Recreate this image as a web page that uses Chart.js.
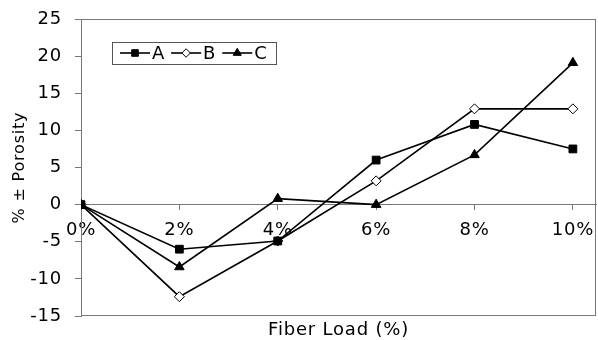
<!DOCTYPE html>
<html>
<head>
<meta charset="utf-8">
<script src="https://cdn.jsdelivr.net/npm/chart.js@4/dist/chart.umd.min.js"></script>
<style>
  html, body { margin: 0; padding: 0; background: #fff; }
  #wrap { width: 598px; height: 340px; }
</style>
</head>
<body>
<div id="wrap"><canvas id="c" width="598" height="340"></canvas></div>
<script>
// Fiber load levels (%) and porosity change for each mix
const fiberLoad = [0, 2, 4, 6, 8, 10];
const seriesA = [0, -6.0, -4.9, 6.0, 10.8, 7.5];
const seriesB = [0, -12.4, -4.9, 3.2, 12.9, 12.9];
const seriesC = [0, -8.4, 0.8, 0.0, 6.7, 19.1];
const yTickValues = [-15, -10, -5, 0, 5, 10, 15, 20, 25];
const seriesNames = ['A', 'B', 'C'];

const FONT = 'DejaVu Sans, Verdana, sans-serif';
const AXIS_GREY = '#777';
const LETTER_SPACING = '0.8px';

function toPoints(values) {
  return fiberLoad.map((x, i) => ({ x: x, y: values[i] }));
}

// Slightly open letter spacing for all chart text
const textSpacing = {
  id: 'textSpacing',
  beforeUpdate(chart) { chart.ctx.letterSpacing = LETTER_SPACING; },
  beforeDraw(chart) { chart.ctx.letterSpacing = LETTER_SPACING; }
};

// Boxed legend drawn inside the plot area, using each dataset's own style
const boxedLegend = {
  id: 'boxedLegend',
  afterDraw(chart, args, opts) {
    const ctx = chart.ctx;
    const area = chart.chartArea;
    const x0 = Math.round(area.left + opts.x);
    const y0 = Math.round(area.top + opts.y);
    const h = opts.height;
    const cy = y0 + h / 2;
    ctx.save();
    ctx.font = opts.fontSize + 'px ' + FONT;
    const sets = chart.data.datasets;
    let w = opts.pad;
    sets.forEach((ds, i) => {
      w += opts.lineLen + opts.textGap + ctx.measureText(ds.label).width;
      if (i < sets.length - 1) w += opts.itemGap;
    });
    w += opts.pad;
    ctx.fillStyle = '#fff';
    ctx.fillRect(x0, y0, w, h);
    ctx.strokeStyle = '#555';
    ctx.lineWidth = 1;
    ctx.strokeRect(x0 + 0.5, y0 + 0.5, Math.round(w), h);
    let x = x0 + opts.pad;
    sets.forEach((ds) => {
      ctx.strokeStyle = ds.borderColor;
      ctx.lineWidth = ds.borderWidth;
      ctx.beginPath();
      ctx.moveTo(x, cy);
      ctx.lineTo(x + opts.lineLen, cy);
      ctx.stroke();
      ctx.fillStyle = ds.pointBackgroundColor;
      ctx.strokeStyle = ds.pointBorderColor;
      ctx.lineWidth = ds.pointBorderWidth;
      Chart.helpers.drawPoint(ctx, {
        pointStyle: ds.pointStyle,
        radius: ds.pointRadius * 0.85,
        rotation: 0,
        borderWidth: ds.pointBorderWidth
      }, x + opts.lineLen / 2, cy);
      ctx.fillStyle = '#000';
      ctx.textBaseline = 'middle';
      ctx.textAlign = 'left';
      ctx.fillText(ds.label, x + opts.lineLen + opts.textGap, cy + 1);
      x += opts.lineLen + opts.textGap + ctx.measureText(ds.label).width + opts.itemGap;
    });
    ctx.restore();
  }
};

// Outline of the plot area (top and right edges complete the frame)
const plotFrame = {
  id: 'plotFrame',
  beforeDatasetsDraw(chart) {
    const { ctx, chartArea: a } = chart;
    ctx.save();
    ctx.strokeStyle = AXIS_GREY;
    ctx.lineWidth = 1;
    ctx.strokeRect(Math.round(a.left) + 0.5, Math.round(a.top) + 0.5,
                   Math.round(a.right - a.left) - 1, Math.round(a.bottom - a.top) - 1);
    ctx.restore();
  }
};

const common = {
  borderColor: '#000',
  borderWidth: 1.6,
  pointBorderColor: '#000',
  pointBorderWidth: 1,
  tension: 0,
  fill: false
};

const datasets = [
  Object.assign({}, common, {
    label: seriesNames[0], data: toPoints(seriesA),
    pointStyle: 'rect', pointRadius: 5.5, pointBackgroundColor: '#000'
  }),
  Object.assign({}, common, {
    label: seriesNames[1], data: toPoints(seriesB),
    pointStyle: 'rectRot', pointRadius: 5, pointBackgroundColor: '#fff'
  }),
  Object.assign({}, common, {
    label: seriesNames[2], data: toPoints(seriesC),
    pointStyle: 'triangle', pointRadius: 5.5, pointBackgroundColor: '#000'
  })
];

new Chart(document.getElementById('c'), {
  type: 'line',
  data: { datasets: datasets },
  plugins: [textSpacing, plotFrame, boxedLegend],
  options: {
    responsive: false,
    animation: false,
    devicePixelRatio: 1,
    layout: { autoPadding: false, padding: { top: 19, right: 2, left: 0, bottom: 0 } },
    plugins: {
      legend: { display: false },
      tooltip: { enabled: false },
      title: {
        display: true,
        position: 'bottom',
        fullSize: false,
        text: 'Fiber Load (%)',
        color: '#000',
        font: { family: FONT, size: 18, weight: 'normal', lineHeight: 1 },
        padding: { top: 5.5, bottom: 0.5 }
      },
      boxedLegend: {
        x: 31, y: 23, height: 22, pad: 8, lineLen: 30, textGap: 2, itemGap: 6, fontSize: 18
      }
    },
    scales: {
      x: {
        type: 'linear',
        position: { y: 0 },
        min: 0,
        max: 10.47,
        afterBuildTicks: (scale) => { scale.ticks = fiberLoad.map(v => ({ value: v })); },
        afterFit: (scale) => {
          scale.paddingLeft = 0;
          scale.paddingRight = 0;
        },
        ticks: {
          color: '#000',
          font: { family: FONT, size: 18 },
          padding: 10,
          maxRotation: 0,
          autoSkip: false,
          callback: (v) => v + '%'
        },
        grid: { drawOnChartArea: false, drawTicks: true, tickLength: 5, color: AXIS_GREY },
        border: { display: true, color: AXIS_GREY, width: 1 }
      },
      y: {
        min: -15,
        max: 25,
        afterBuildTicks: (scale) => { scale.ticks = yTickValues.map(v => ({ value: v })); },
        afterFit: (scale) => {
          scale.width = 81;
          scale.paddingTop = 10;
          scale.paddingBottom = 10;
        },
        ticks: {
          color: '#000',
          font: { family: FONT, size: 18 },
          padding: 13
        },
        grid: { drawOnChartArea: false, drawTicks: true, tickLength: 6, color: AXIS_GREY },
        border: { display: true, color: AXIS_GREY, width: 1 },
        title: {
          display: true,
          text: '% \u00B1 Porosity',
          color: '#000',
          font: { family: FONT, size: 16, weight: 'normal' },
          padding: { top: 10, bottom: 0 }
        }
      }
    }
  }
});
</script>
</body>
</html>
